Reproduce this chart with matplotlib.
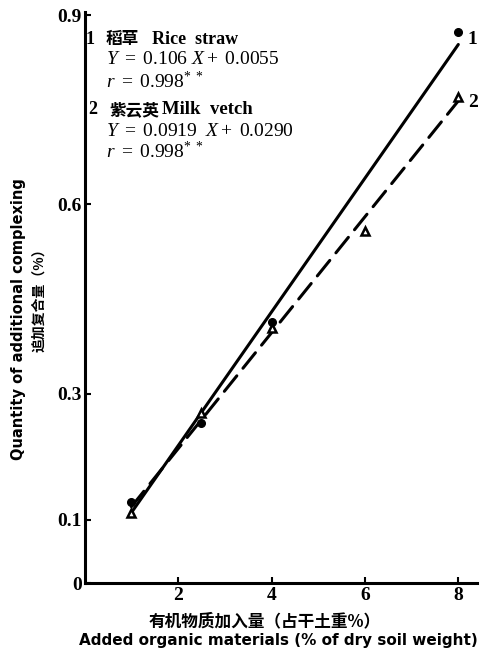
import matplotlib
matplotlib.use("Agg")
import matplotlib.pyplot as plt
import numpy as np

plt.rcParams['font.family'] = ['Liberation Serif', 'Noto Sans CJK SC', 'DejaVu Sans']
plt.rcParams['mathtext.fontset'] = 'custom'
plt.rcParams['mathtext.rm'] = 'Liberation Serif'
plt.rcParams['mathtext.it'] = 'Liberation Serif:italic'
plt.rcParams['mathtext.bf'] = 'Liberation Serif:bold'

# Added organic material (% of dry soil weight) vs additional complexing (%)
rice_x = [1, 2.5, 4, 8]
rice_y = [0.128, 0.254, 0.414, 0.873]
vetch_x = [1, 2.5, 4, 6, 8]
vetch_y = [0.111, 0.269, 0.404, 0.558, 0.770]

# Regression lines (slope, intercept)
rice_fit = (0.106, 0.0055)
vetch_fit = (0.0919, 0.0290)

x_ticks = [2, 4, 6, 8]
y_ticks = [0, 0.1, 0.3, 0.6, 0.9]
y_tick_labels = ["0", "0.1", "0.3", "0.6", "0.9"]

W, H = 485, 651
fig = plt.figure(figsize=(W / 100, H / 100), dpi=100)
ax = fig.add_axes([84.7 / W, 1 - 583 / H, (477 - 84.7) / W, (583 - 12) / H])
ax.set_xlim(0, 8.4)
ax.set_ylim(0, 0.905)

for side in ("top", "right"):
    ax.spines[side].set_visible(False)
for side in ("left", "bottom"):
    ax.spines[side].set_linewidth(2.2)

ax.set_xticks(x_ticks)
ax.set_xticklabels([str(t) for t in x_ticks], fontweight="bold", fontsize=14)
ax.set_yticks(y_ticks)
ax.set_yticklabels(y_tick_labels, fontweight="bold", fontsize=14)
ax.tick_params(axis="both", direction="in", length=4, width=1.5, pad=2)
ax.tick_params(axis="x", pad=3)

xx = np.array([min(rice_x), max(rice_x)])
ax.plot(xx, rice_fit[0] * xx + rice_fit[1], color="black", lw=2.2,
        solid_capstyle="round")
ax.plot(xx, vetch_fit[0] * xx + vetch_fit[1], color="black", lw=2.2,
        dashes=(6.5, 3.2), dash_capstyle="round")
ax.plot(rice_x, rice_y, "o", color="black", ms=5.5, zorder=3)
ax.plot(vetch_x, vetch_y, "^", mfc="white", mec="black", mew=1.8, ms=5.5, zorder=3)

ax.text(8.2, rice_y[-1] - 0.012, "1", fontsize=14, fontweight="bold", va="center", ha="left")
ax.text(8.2, vetch_y[-1] - 0.008, "2", fontsize=14, fontweight="bold", va="center", ha="left")


def ftext(x, y, s, **kw):
    fig.text(x / W, 1 - y / H, s, **kw)


fs = 14
ftext(86, 39, "1", fontsize=13, fontweight="bold", va="center")
ftext(106, 39, "稻草", fontsize=12, fontweight="bold", va="center",
      family=["Noto Sans CJK SC"])
ftext(152, 39, "Rice  straw", fontsize=13, fontweight="bold", va="center")
ftext(106, 59, r"$Y\ =\ 0.106\ X+\ 0.0055$", fontsize=fs, va="center")
ftext(106, 81, r"$r\ =\ 0.998^{*\ *}$", fontsize=fs, va="center")

ftext(88, 110, "2", fontsize=13, fontweight="bold", va="center")
ftext(109, 110, "紫云英", fontsize=12, fontweight="bold", va="center",
      family=["Noto Sans CJK SC"])
ftext(162, 110, "Milk  vetch", fontsize=13.5, fontweight="bold", va="center")
ftext(106, 131, r"$Y\ =\ 0.0919\ \ X+\ 0.0290$", fontsize=fs, va="center")
ftext(106, 152, r"$r\ =\ 0.998^{*\ *}$", fontsize=fs, va="center")

# Axis titles
ftext(19, 319, "Quantity of additional complexing", rotation=90, fontsize=10.5,
      fontweight="bold", va="center", ha="center", family=["DejaVu Sans"])
ftext(39, 297, "追加复合量（%）", rotation=90, fontsize=10,
      fontweight="bold", va="center", ha="center", family=["Noto Sans CJK SC"])
ftext(265, 621, "有机物质加入量（占干土重%）", fontsize=12, fontweight="bold",
      va="center", ha="center", family=["Noto Sans CJK SC"])
ftext(278, 640, "Added organic materials (% of dry soil weight)", fontsize=11,
      fontweight="bold", va="center", ha="center", family=["DejaVu Sans"])

fig.savefig("out.png", dpi=100)
